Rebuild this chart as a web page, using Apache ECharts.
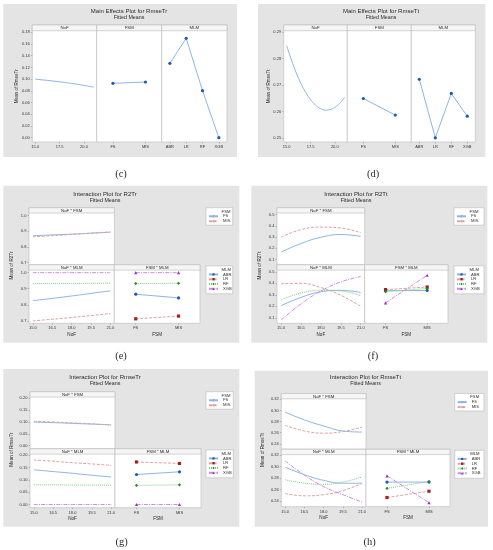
<!DOCTYPE html>
<html><head><meta charset="utf-8">
<script src="https://cdn.jsdelivr.net/npm/echarts@6/dist/echarts.min.js"></script>
<style>html,body{margin:0;padding:0;background:#fff}#c{width:493px;height:550px}</style>
</head><body><div id="c"></div>
<script>
// ---------- shared categories / ticks ----------
const nofX = [15, 16.5, 18, 19.5, 21];
const nofXFine = [15, 15.5, 16, 16.5, 17, 17.5, 18, 18.5, 19, 19.5, 20, 20.5, 21];
const fsmCats = ['FS', 'MIS'];
const mlmCats = ['ABR', 'LR', 'RF', 'XGB'];
const nofTicksMain = [15, 17.5, 20];
const nofTicksInt = [15, 16.5, 18, 19.5, 21];

// ---------- (c) Main Effects Plot for RmseTr ----------
const c_nof = [0.1000, 0.0974, 0.0944, 0.0907, 0.0863];
const c_fsm = [0.0928, 0.0951];
const c_mlm = [0.127, 0.1697, 0.0803, 0.000];
const c_yTicks = [0, 0.02, 0.04, 0.06, 0.08, 0.10, 0.12, 0.14, 0.16, 0.18];

// ---------- (d) Main Effects Plot for RmseTt ----------
const d_nof = [0.2850, 0.2795, 0.2746, 0.2705, 0.2671, 0.2644, 0.2624, 0.2611, 0.2605, 0.2607, 0.2615, 0.2630, 0.2653];
const d_fsm = [0.2649, 0.2586];
const d_mlm = [0.2722, 0.2500, 0.2668, 0.2582];
const d_yTicks = [0.25, 0.26, 0.27, 0.28, 0.29];

// ---------- (e) Interaction Plot for R2Tr ----------
const e_fs = [0.871, 0.876, 0.881, 0.887, 0.893];
const e_mis = [0.864, 0.871, 0.879, 0.887, 0.896];
const e_nofABR = [0.826, 0.840, 0.855, 0.871, 0.887];
const e_nofLR = [0.700, 0.710, 0.721, 0.733, 0.746];
const e_nofRF = [0.932, 0.933, 0.933, 0.934, 0.935];
const e_nofXGB = [1.000, 1.000, 1.000, 1.000, 1.000];
const e_fsmABR = [0.866, 0.843];
const e_fsmLR = [0.713, 0.730];
const e_fsmRF = [0.932, 0.934];
const e_fsmXGB = [1.000, 1.000];
const e_yTicks = [0.7, 0.8, 0.9, 1.0];

// ---------- (f) Interaction Plot for R2Tt ----------
const f_fs = [0.165, 0.242, 0.298, 0.323, 0.306];
const f_mis = [0.300, 0.366, 0.389, 0.381, 0.338];
const f_nofABR = [0.205, 0.277, 0.326, 0.339, 0.320];
const f_nofLR = [0.397, 0.400, 0.363, 0.296, 0.200];
const f_nofRF = [0.257, 0.315, 0.339, 0.333, 0.293];
const f_nofXGB = [0.080, 0.220, 0.333, 0.412, 0.460];
const f_fsmABR = [0.335, 0.338];
const f_fsmLR = [0.345, 0.368];
const f_fsmRF = [0.328, 0.355];
const f_fsmXGB = [0.230, 0.470];
const f_yTicks = [0.1, 0.2, 0.3, 0.4, 0.5];

// ---------- (g) Interaction Plot for RmseTr ----------
const g_fs = [0.099, 0.097, 0.094, 0.091, 0.088];
const g_mis = [0.103, 0.100, 0.096, 0.092, 0.087];
const g_nofABR = [0.141, 0.134, 0.127, 0.119, 0.112];
const g_nofLR = [0.181, 0.176, 0.170, 0.165, 0.159];
const g_nofRF = [0.080, 0.080, 0.079, 0.079, 0.078];
const g_nofXGB = [0.000, 0.000, 0.000, 0.000, 0.000];
const g_fsmABR = [0.122, 0.133];
const g_fsmLR = [0.173, 0.167];
const g_fsmRF = [0.078, 0.080];
const g_fsmXGB = [0.000, 0.000];
const g_yTicks = [0, 0.05, 0.10, 0.15, 0.20];

// ---------- (h) Interaction Plot for RmseTt ----------
const h_fs = [0.297, 0.283, 0.272, 0.263, 0.261];
const h_mis = [0.273, 0.263, 0.259, 0.262, 0.270];
const h_nofABR = [0.299, 0.286, 0.276, 0.271, 0.271];
const h_nofLR = [0.253, 0.249, 0.251, 0.258, 0.271];
const h_nofRF = [0.277, 0.271, 0.269, 0.273, 0.282];
const h_nofXGB = [0.310, 0.285, 0.265, 0.251, 0.238];
const h_fsmABR = [0.273, 0.273];
const h_fsmLR = [0.246, 0.257];
const h_fsmRF = [0.262, 0.274];
const h_fsmXGB = [0.284, 0.237];
const h_yTicks = [0.24, 0.26, 0.28, 0.30, 0.32];

// ================= drawing =================
const FONT = "'Liberation Sans', Arial, sans-serif";
const SERIF = "'Liberation Serif', 'Times New Roman', serif";
const BG = '#E4E4E4', BORDER = '#C2C2C2', HEAD = '#F6F6F6', TXT = '#2a2a2a';
const opt = { animation: false, backgroundColor: '#ffffff', grid: [], xAxis: [], yAxis: [], series: [], legend: [], graphic: { elements: [] } };
const GE = opt.graphic.elements;

function text(t, x, y, size, o) {
  o = o || {};
  GE.push({ type: 'text', x: x, y: y, z: 20, rotation: o.rot || 0, silent: true,
    style: { text: t, fontSize: size, fontFamily: o.family || FONT, fontWeight: o.weight || 'normal',
      fill: o.fill || TXT, align: o.align || 'center', verticalAlign: 'middle' } });
}
function rect(x0, y0, x1, y1, fill, stroke, z) {
  GE.push({ type: 'rect', z: z, silent: true, shape: { x: x0, y: y0, width: x1 - x0, height: y1 - y0 },
    style: { fill: fill, stroke: stroke || null, lineWidth: stroke ? 0.7 : 0 } });
}
const tickStyle = { color: '#8a8a8a', width: 0.5 };
function addGrid(x0, y0, x1, y1) {
  opt.grid.push({ left: x0, top: y0, width: x1 - x0, height: y1 - y0, containLabel: false });
  return opt.grid.length - 1;
}
function yAxisV(gi, min, max, ticks, dec, show) {
  opt.yAxis.push({ type: 'value', gridIndex: gi, min: min, max: max,
    axisLine: { show: false, onZero: false }, splitLine: { show: false },
    axisTick: { show: show, length: 1.5, lineStyle: tickStyle, customValues: ticks },
    axisLabel: { show: show, customValues: ticks, formatter: v => (+v).toFixed(dec), fontSize: 4, color: '#333', margin: 2.6, fontFamily: FONT } });
  return opt.yAxis.length - 1;
}
function xAxisV(gi, min, max, ticks, show) {
  opt.xAxis.push({ type: 'value', gridIndex: gi, min: min, max: max,
    axisLine: { show: false, onZero: false }, splitLine: { show: false },
    axisTick: { show: show, length: 1.5, lineStyle: tickStyle, customValues: ticks },
    axisLabel: { show: show, customValues: ticks, formatter: v => (+v).toFixed(1), fontSize: 4, color: '#333', margin: 2.8, fontFamily: FONT } });
  return opt.xAxis.length - 1;
}
function xAxisC(gi, cats, show) {
  opt.xAxis.push({ type: 'category', gridIndex: gi, data: cats, boundaryGap: true,
    axisLine: { show: false, onZero: false }, splitLine: { show: false },
    axisTick: { show: show, length: 1.5, alignWithLabel: true, lineStyle: tickStyle },
    axisLabel: { show: show, interval: 0, fontSize: 4, color: '#333', margin: 2.8, fontFamily: FONT } });
  return opt.xAxis.length - 1;
}
const ST = {
  main: { line: '#8DB5E5', type: 'solid', sym: 'circle', symColor: '#1D5CA8' },
  FS: { line: '#8DB5E5', type: 'solid' },
  MIS: { line: '#E3A1A1', type: [3, 1.5] },
  ABR: { line: '#8DB5E5', type: 'solid', sym: 'circle', symColor: '#1D5CA8' },
  LR: { line: '#E3A1A1', type: [3, 1.5], sym: 'rect', symColor: '#A32020' },
  RF: { line: '#7DCB7D', type: [1, 1], sym: 'diamond', symColor: '#1F8A1F' },
  XGB: { line: '#CF8AE6', type: [4, 1.2, 1, 1.2], sym: 'triangle', symColor: '#9A2FC6' }
};
function addLine(name, xi, yi, data, st, withSym, smooth) {
  opt.series.push({ type: 'line', name: name, xAxisIndex: xi, yAxisIndex: yi, data: data,
    smooth: smooth ? 0.45 : false, showSymbol: !!withSym, symbol: withSym ? st.sym : (st.sym || 'none'), symbolSize: 3.2,
    lineStyle: { color: st.line, width: 1, type: st.type }, itemStyle: { color: st.symColor || st.line },
    emphasis: { disabled: true }, silent: true, z: 5 });
}
const zip = (xs, ys) => xs.map((x, i) => [x, ys[i]]);

function mainEffects(c) {
  rect(c.box[0], c.box[1], c.box[2], c.box[3], BG, null, -5);
  text(c.title, c.tx, 11.6, 6);
  text('Fitted Means', c.tx, 18, 5.3);
  const names = ['NoF', 'FSM', 'MLM'];
  for (let i = 0; i < 3; i++) {
    rect(c.xs[i], c.yTop, c.xs[i + 1], c.yBot, '#fff', BORDER, -4);
    rect(c.xs[i], c.yTop, c.xs[i + 1], c.yHead, HEAD, BORDER, -3);
    text(names[i], (c.xs[i] + c.xs[i + 1]) / 2, (c.yTop + c.yHead) / 2 + 0.2, 4.3);
  }
  const g0 = addGrid(c.xs[0], c.yHead, c.xs[1], c.yBot);
  const x0 = xAxisV(g0, 14.7, 21.3, nofTicksMain, true);
  const y0 = yAxisV(g0, c.yMin, c.yMax, c.yTicks, 2, true);
  addLine(c.key + 'nof', x0, y0, zip(c.nofXs, c.nof), ST.main, false, true);
  const g1 = addGrid(c.xs[1], c.yHead, c.xs[2], c.yBot);
  const x1 = xAxisC(g1, fsmCats, true);
  const y1 = yAxisV(g1, c.yMin, c.yMax, c.yTicks, 2, false);
  addLine(c.key + 'fsm', x1, y1, c.fsm, ST.main, true, false);
  const g2 = addGrid(c.xs[2], c.yHead, c.xs[3], c.yBot);
  const x2 = xAxisC(g2, mlmCats, true);
  const y2 = yAxisV(g2, c.yMin, c.yMax, c.yTicks, 2, false);
  addLine(c.key + 'mlm', x2, y2, c.mlm, ST.main, true, false);
  text(c.ytitle, c.ytx, (c.yHead + c.yBot) / 2, 4.6, { rot: Math.PI / 2 });
}

function interaction(c) {
  const hh = 5.3;
  rect(c.box[0], c.box[1], c.box[2], c.box[3], BG, null, -5);
  text(c.title, c.tx, c.ty, 6);
  text('Fitted Means', c.tx, c.ty + 6.4, 5.3);
  const xs = c.xs, ht = c.ht, tb = c.tb, bb = c.bb;
  // panel frames
  rect(xs[0], ht, xs[1], tb, '#fff', BORDER, -4);
  rect(xs[0], ht, xs[1], ht + hh, HEAD, BORDER, -3);
  text('NoF * FSM', (xs[0] + xs[1]) / 2, ht + hh / 2 + 0.2, 4.3);
  rect(xs[0], tb, xs[1], bb, '#fff', BORDER, -4);
  rect(xs[0], tb, xs[1], tb + hh, HEAD, BORDER, -3);
  text('NoF * MLM', (xs[0] + xs[1]) / 2, tb + hh / 2 + 0.2, 4.3);
  rect(xs[1], tb, xs[2], bb, '#fff', BORDER, -4);
  rect(xs[1], tb, xs[2], tb + hh, HEAD, BORDER, -3);
  text('FSM * MLM', (xs[1] + xs[2]) / 2, tb + hh / 2 + 0.2, 4.3);
  // top-left NoF*FSM
  const gA = addGrid(xs[0], ht + hh, xs[1], tb);
  const xA = xAxisV(gA, 14.7, 21.3, nofTicksInt, false);
  const yA = yAxisV(gA, c.yMin, c.yMax, c.yTicks, c.dec, true);
  addLine('FS', xA, yA, zip(nofX, c.fs), ST.FS, false, true);
  addLine('MIS', xA, yA, zip(nofX, c.mis), ST.MIS, false, true);
  // bottom-right FSM*MLM (added first so legend icons carry symbols)
  const gC = addGrid(xs[1], tb + hh, xs[2], bb);
  const xC = xAxisC(gC, fsmCats, true);
  const yC = yAxisV(gC, c.yMin, c.yMax, c.yTicks, c.dec, false);
  mlmCats.forEach(m => addLine(m, xC, yC, c.fsmM[m], ST[m], true, false));
  // bottom-left NoF*MLM
  const gB = addGrid(xs[0], tb + hh, xs[1], bb);
  const xB = xAxisV(gB, 14.7, 21.3, nofTicksInt, true);
  const yB = yAxisV(gB, c.yMin, c.yMax, c.yTicks, c.dec, true);
  mlmCats.forEach(m => addLine(m, xB, yB, zip(nofX, c.nofM[m]), ST[m], false, true));
  // axis titles
  text('NoF', (xs[0] + xs[1]) / 2, bb + 11, 4.6);
  text('FSM', (xs[1] + xs[2]) / 2, bb + 11, 4.6);
  text(c.ytitle, c.ytx, (ht + bb) / 2, 4.6, { rot: Math.PI / 2 });
  // legends
  const lx0 = c.lx0, lx1 = c.lx1;
  rect(lx0, ht, lx1, ht + 17.5, '#fff', BORDER, -3);
  text('FSM', lx0 + 15.6, ht + 3.8, 4.2, { align: 'left' });
  opt.legend.push({ left: lx0 + 2, top: ht + 6.4, orient: 'vertical', itemWidth: 9, itemHeight: 3, itemGap: 0.6,
    padding: 0, selectedMode: false, textStyle: { fontSize: 4.2, color: '#333', fontFamily: FONT, lineHeight: 4.4 },
    data: ['FS', 'MIS'] });
  const my = tb + 1;
  rect(lx0, my, lx1, my + 28, '#fff', BORDER, -3);
  text('MLM', lx0 + 15.6, my + 3.8, 4.2, { align: 'left' });
  opt.legend.push({ left: lx0 + 2, top: my + 6.4, orient: 'vertical', itemWidth: 9, itemHeight: 3, itemGap: 0.4,
    padding: 0, selectedMode: false, textStyle: { fontSize: 4.2, color: '#333', fontFamily: FONT, lineHeight: 4.4 },
    data: mlmCats });
}

mainEffects({ key: 'c', box: [3.3, 4, 237, 157], tx: 129, title: 'Main Effects Plot for RmseTr',
  xs: [32.3, 96.7, 161.7, 227], yTop: 25, yHead: 30.7, yBot: 142, ytx: 16.5,
  yMin: -0.0073, yMax: 0.1827, yTicks: c_yTicks, ytitle: 'Mean of RmseTr',
  nofXs: nofX, nof: c_nof, fsm: c_fsm, mlm: c_mlm });
mainEffects({ key: 'd', box: [258, 4, 485.3, 157], tx: 381, title: 'Main Effects Plot for RmseTt',
  xs: [283.7, 347.3, 411.3, 475.3], yTop: 25, yHead: 30.7, yBot: 142, ytx: 268.7,
  yMin: 0.2484, yMax: 0.2906, yTicks: d_yTicks, ytitle: 'Mean of RmseTt',
  nofXs: nofXFine, nof: d_nof, fsm: d_fsm, mlm: d_mlm });

interaction({ box: [3.3, 185.7, 239.3, 342.7], tx: 105, ty: 194, title: 'Interaction Plot for R2Tr',
  xs: [29, 114.3, 200], ht: 207.7, tb: 264.8, bb: 323.3, ytx: 11.7, lx0: 206, lx1: 232.7,
  yMin: 0.685, yMax: 1.016, yTicks: e_yTicks, dec: 1, ytitle: 'Mean of R2Tr',
  fs: e_fs, mis: e_mis,
  nofM: { ABR: e_nofABR, LR: e_nofLR, RF: e_nofRF, XGB: e_nofXGB },
  fsmM: { ABR: e_fsmABR, LR: e_fsmLR, RF: e_fsmRF, XGB: e_fsmXGB } });
interaction({ box: [251.3, 185.7, 487.3, 342.7], tx: 356, ty: 194, title: 'Interaction Plot for R2Tt',
  xs: [277, 364.7, 448], ht: 207.7, tb: 264.8, bb: 323.3, ytx: 259.7, lx0: 454, lx1: 484,
  yMin: 0.052, yMax: 0.515, yTicks: f_yTicks, dec: 1, ytitle: 'Mean of R2Tt',
  fs: f_fs, mis: f_mis,
  nofM: { ABR: f_nofABR, LR: f_nofLR, RF: f_nofRF, XGB: f_nofXGB },
  fsmM: { ABR: f_fsmABR, LR: f_fsmLR, RF: f_fsmRF, XGB: f_fsmXGB } });
interaction({ box: [3.3, 369, 239.3, 526.7], tx: 105, ty: 377.3, title: 'Interaction Plot for RmseTr',
  xs: [30, 115, 201], ht: 391.7, tb: 448.8, bb: 507.7, ytx: 12, lx0: 206, lx1: 233.3,
  yMin: -0.013, yMax: 0.205, yTicks: g_yTicks, dec: 2, ytitle: 'Mean of RmseTr',
  fs: g_fs, mis: g_mis,
  nofM: { ABR: g_nofABR, LR: g_nofLR, RF: g_nofRF, XGB: g_nofXGB },
  fsmM: { ABR: g_fsmABR, LR: g_fsmLR, RF: g_fsmRF, XGB: g_fsmXGB } });
interaction({ box: [254.7, 370.7, 488, 526.7], tx: 365.5, ty: 377.3, title: 'Interaction Plot for RmseTt',
  xs: [281.3, 366, 450], ht: 393.5, tb: 449.3, bb: 506.7, ytx: 263, lx0: 454.7, lx1: 484,
  yMin: 0.230, yMax: 0.321, yTicks: h_yTicks, dec: 2, ytitle: 'Mean of RmseTt',
  fs: h_fs, mis: h_mis,
  nofM: { ABR: h_nofABR, LR: h_nofLR, RF: h_nofRF, XGB: h_nofXGB },
  fsmM: { ABR: h_fsmABR, LR: h_fsmLR, RF: h_fsmRF, XGB: h_fsmXGB } });

// sub-figure labels
text('(c)', 121, 174, 10.5, { family: SERIF });
text('(d)', 373, 174, 10.5, { family: SERIF });
text('(e)', 121, 356.5, 10.5, { family: SERIF });
text('(f)', 373, 356.5, 10.5, { family: SERIF });
text('(g)', 121.7, 542.5, 10.5, { family: SERIF });
text('(h)', 369.7, 542.5, 10.5, { family: SERIF });

const chart = echarts.init(document.getElementById('c'), null, { renderer: 'canvas' });
chart.setOption(opt);
</script></body></html>
